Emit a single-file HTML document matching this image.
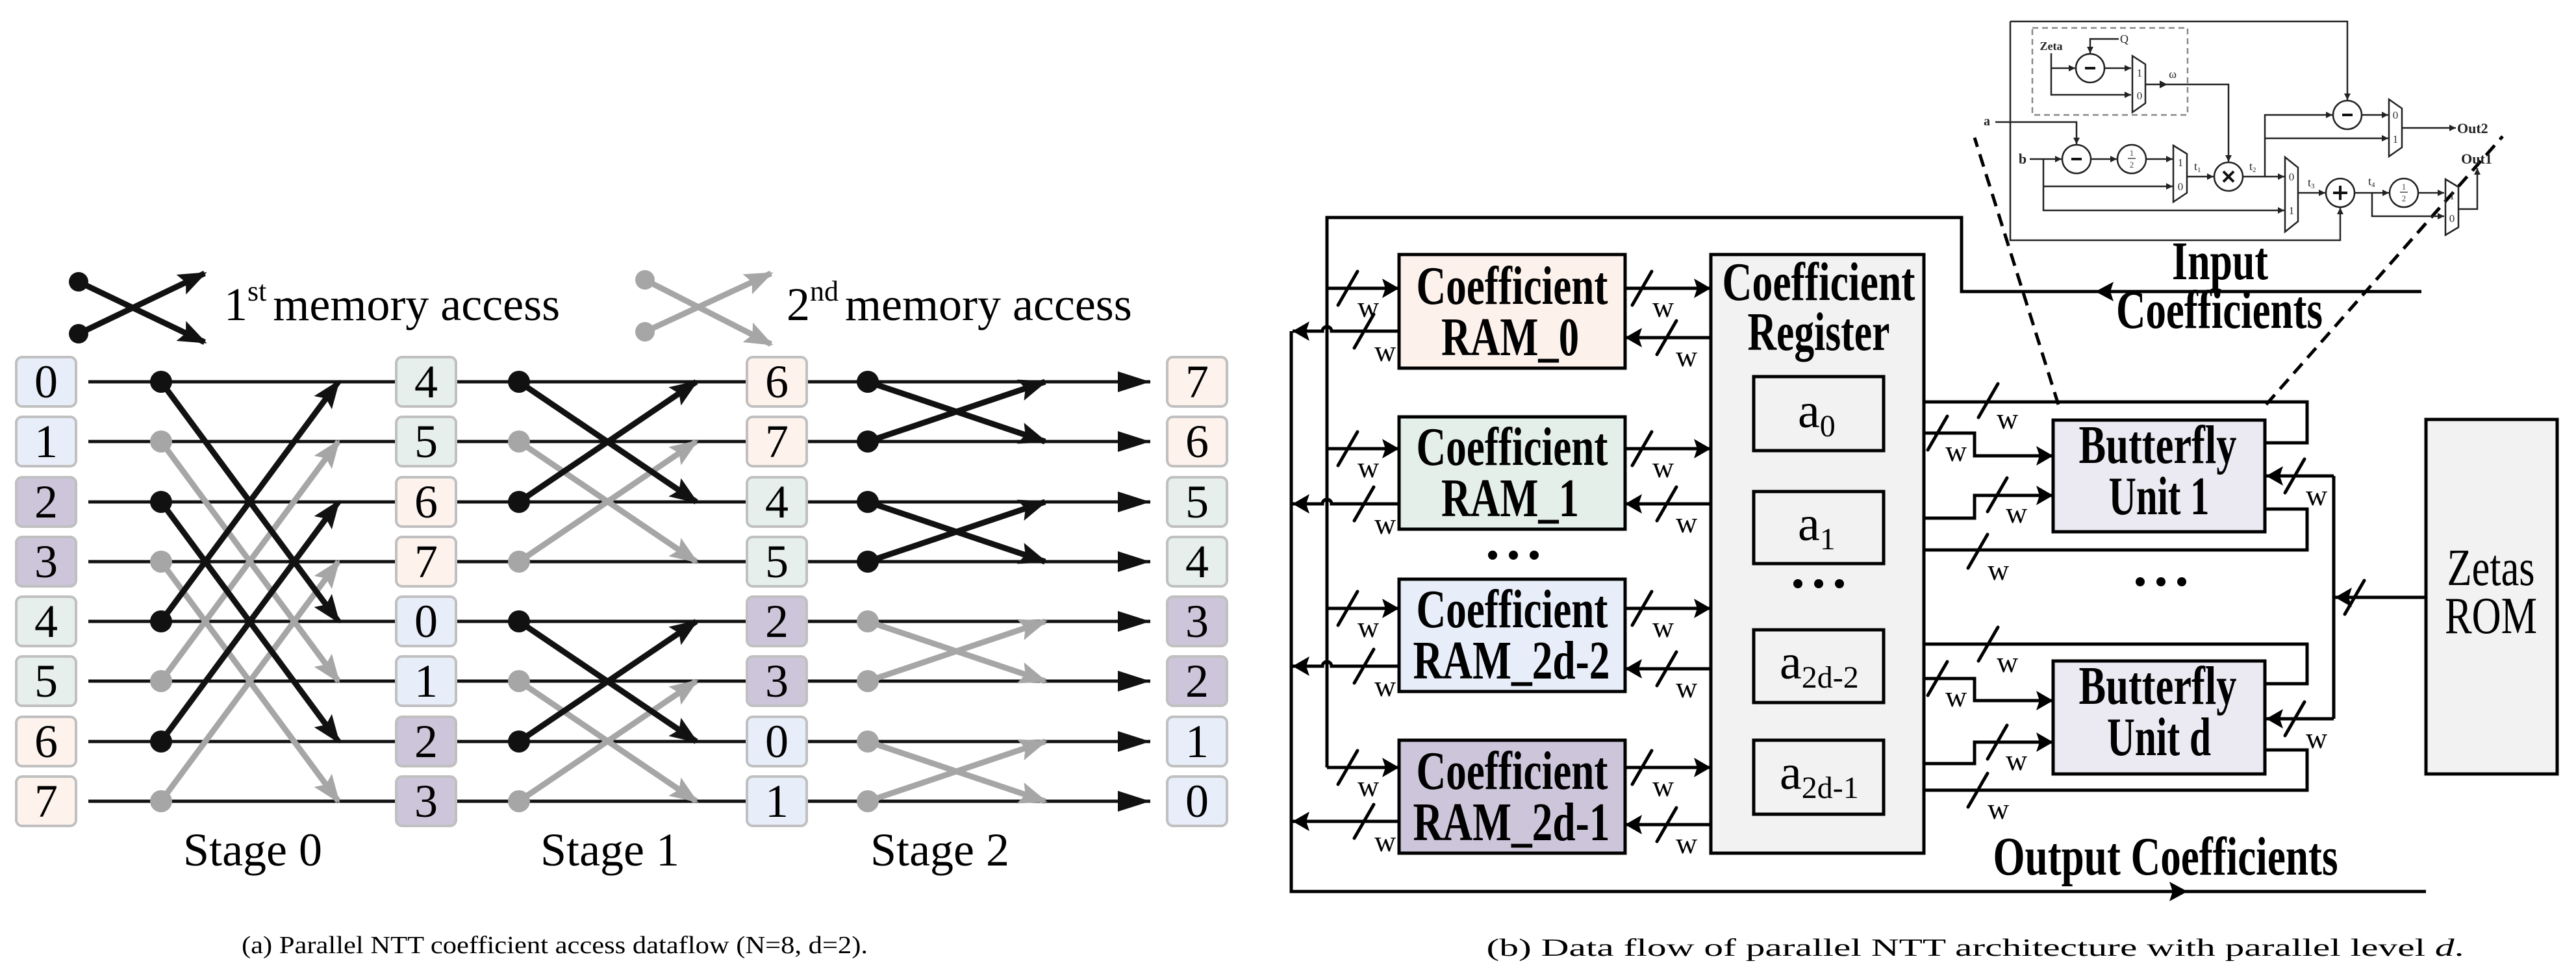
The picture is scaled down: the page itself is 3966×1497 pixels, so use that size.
<!DOCTYPE html>
<html><head><meta charset="utf-8"><style>html,body{margin:0;padding:0;background:#fff}svg{display:block}</style></head>
<body>
<svg xmlns="http://www.w3.org/2000/svg" width="3966" height="1497" viewBox="0 0 3966 1497" font-family="'Liberation Serif', serif">
<defs>
<marker id="ah" viewBox="0 0 50 32" refX="50" refY="16" markerWidth="50" markerHeight="32" markerUnits="userSpaceOnUse" orient="auto"><path d="M0,0 L50,16 L0,32 z" fill="#111"/></marker>
<marker id="ac" viewBox="0 0 44 34" refX="40" refY="17" markerWidth="44" markerHeight="34" markerUnits="userSpaceOnUse" orient="auto"><path d="M0,0 L44,17 L0,34 L8,17 z" fill="#111"/></marker>
<marker id="acg" viewBox="0 0 44 34" refX="40" refY="17" markerWidth="44" markerHeight="34" markerUnits="userSpaceOnUse" orient="auto"><path d="M0,0 L44,17 L0,34 L8,17 z" fill="#a6a6a6"/></marker>
<marker id="ab" viewBox="0 0 26 30" refX="26" refY="15" markerWidth="26" markerHeight="30" markerUnits="userSpaceOnUse" orient="auto"><path d="M0,0 L26,15 L0,30 L5,15 z" fill="#000"/></marker>
<marker id="ai" viewBox="0 0 10 10" refX="10" refY="5" markerWidth="10" markerHeight="10" markerUnits="userSpaceOnUse" orient="auto"><path d="M0,0 L10,5 L0,10 z" fill="#222"/></marker>
</defs>
<rect width="3966" height="1497" fill="#fff"/>

<!-- ===== Part (a) ===== -->
<!-- legend -->
<g stroke-width="9">
<line x1="121" y1="434" x2="315" y2="527" stroke="#111" marker-end="url(#ac)"/>
<line x1="121" y1="514" x2="315" y2="421" stroke="#111" marker-end="url(#ac)"/>
<line x1="993" y1="431" x2="1187" y2="530" stroke="#a6a6a6" marker-end="url(#acg)"/>
<line x1="993" y1="511" x2="1187" y2="421" stroke="#a6a6a6" marker-end="url(#acg)"/>
</g>
<circle cx="121" cy="434" r="15" fill="#111"/><circle cx="121" cy="514" r="15" fill="#111"/>
<circle cx="993" cy="431" r="15" fill="#a6a6a6"/><circle cx="993" cy="511" r="15" fill="#a6a6a6"/>
<text x="345" y="493" font-size="72">1<tspan font-size="44" dy="-30">st</tspan><tspan dy="30" dx="10">memory access</tspan></text>
<text x="1211" y="493" font-size="72">2<tspan font-size="44" dy="-30">nd</tspan><tspan dy="30" dx="10">memory access</tspan></text>

<!-- row lines -->
<g stroke="#111" stroke-width="5">
<line x1="136" y1="588" x2="1771" y2="588" marker-end="url(#ah)"/>
<line x1="136" y1="680" x2="1771" y2="680" marker-end="url(#ah)"/>
<line x1="136" y1="773" x2="1771" y2="773" marker-end="url(#ah)"/>
<line x1="136" y1="865" x2="1771" y2="865" marker-end="url(#ah)"/>
<line x1="136" y1="957" x2="1771" y2="957" marker-end="url(#ah)"/>
<line x1="136" y1="1049" x2="1771" y2="1049" marker-end="url(#ah)"/>
<line x1="136" y1="1142" x2="1771" y2="1142" marker-end="url(#ah)"/>
<line x1="136" y1="1234" x2="1771" y2="1234" marker-end="url(#ah)"/>
</g>
<!-- gray crosses -->
<g stroke="#a6a6a6" stroke-width="9" marker-end="url(#acg)">
<line x1="248" y1="680" x2="521" y2="1049"/><line x1="248" y1="1049" x2="521" y2="680"/>
<line x1="248" y1="865" x2="521" y2="1234"/><line x1="248" y1="1234" x2="521" y2="865"/>
<line x1="799" y1="680" x2="1072" y2="865"/><line x1="799" y1="865" x2="1072" y2="680"/>
<line x1="799" y1="1049" x2="1072" y2="1234"/><line x1="799" y1="1234" x2="1072" y2="1049"/>
<line x1="1336" y1="957" x2="1609" y2="1049"/><line x1="1336" y1="1049" x2="1609" y2="957"/>
<line x1="1336" y1="1142" x2="1609" y2="1234"/><line x1="1336" y1="1234" x2="1609" y2="1142"/>
</g>
<g fill="#a6a6a6">
<circle cx="248" cy="680" r="17"/><circle cx="248" cy="1049" r="17"/><circle cx="248" cy="865" r="17"/><circle cx="248" cy="1234" r="17"/>
<circle cx="799" cy="680" r="17"/><circle cx="799" cy="865" r="17"/><circle cx="799" cy="1049" r="17"/><circle cx="799" cy="1234" r="17"/>
<circle cx="1336" cy="957" r="17"/><circle cx="1336" cy="1049" r="17"/><circle cx="1336" cy="1142" r="17"/><circle cx="1336" cy="1234" r="17"/>
</g>
<!-- black crosses -->
<g stroke="#111" stroke-width="9" marker-end="url(#ac)">
<line x1="248" y1="588" x2="521" y2="957"/><line x1="248" y1="957" x2="521" y2="588"/>
<line x1="248" y1="773" x2="521" y2="1142"/><line x1="248" y1="1142" x2="521" y2="773"/>
<line x1="799" y1="588" x2="1072" y2="773"/><line x1="799" y1="773" x2="1072" y2="588"/>
<line x1="799" y1="957" x2="1072" y2="1142"/><line x1="799" y1="1142" x2="1072" y2="957"/>
<line x1="1336" y1="588" x2="1609" y2="680"/><line x1="1336" y1="680" x2="1609" y2="588"/>
<line x1="1336" y1="773" x2="1609" y2="865"/><line x1="1336" y1="865" x2="1609" y2="773"/>
</g>
<g fill="#111">
<circle cx="248" cy="588" r="17"/><circle cx="248" cy="957" r="17"/><circle cx="248" cy="773" r="17"/><circle cx="248" cy="1142" r="17"/>
<circle cx="799" cy="588" r="17"/><circle cx="799" cy="773" r="17"/><circle cx="799" cy="957" r="17"/><circle cx="799" cy="1142" r="17"/>
<circle cx="1336" cy="588" r="17"/><circle cx="1336" cy="680" r="17"/><circle cx="1336" cy="773" r="17"/><circle cx="1336" cy="865" r="17"/>
</g>
<!-- number boxes -->
<g stroke="#c0c0c0" stroke-width="4">
<!-- col0 -->
<rect x="25" y="550" width="92" height="76" rx="9" fill="#e8eef9"/>
<rect x="25" y="642" width="92" height="76" rx="9" fill="#e8eef9"/>
<rect x="25" y="735" width="92" height="76" rx="9" fill="#cdc5d9"/>
<rect x="25" y="827" width="92" height="76" rx="9" fill="#cdc5d9"/>
<rect x="25" y="919" width="92" height="76" rx="9" fill="#e6efec"/>
<rect x="25" y="1011" width="92" height="76" rx="9" fill="#e6efec"/>
<rect x="25" y="1104" width="92" height="76" rx="9" fill="#fdf2ec"/>
<rect x="25" y="1196" width="92" height="76" rx="9" fill="#fdf2ec"/>
<!-- col1 -->
<rect x="610" y="550" width="92" height="76" rx="9" fill="#e6efec"/>
<rect x="610" y="642" width="92" height="76" rx="9" fill="#e6efec"/>
<rect x="610" y="735" width="92" height="76" rx="9" fill="#fdf2ec"/>
<rect x="610" y="827" width="92" height="76" rx="9" fill="#fdf2ec"/>
<rect x="610" y="919" width="92" height="76" rx="9" fill="#e8eef9"/>
<rect x="610" y="1011" width="92" height="76" rx="9" fill="#e8eef9"/>
<rect x="610" y="1104" width="92" height="76" rx="9" fill="#cdc5d9"/>
<rect x="610" y="1196" width="92" height="76" rx="9" fill="#cdc5d9"/>
<!-- col2 -->
<rect x="1150" y="550" width="92" height="76" rx="9" fill="#fdf2ec"/>
<rect x="1150" y="642" width="92" height="76" rx="9" fill="#fdf2ec"/>
<rect x="1150" y="735" width="92" height="76" rx="9" fill="#e6efec"/>
<rect x="1150" y="827" width="92" height="76" rx="9" fill="#e6efec"/>
<rect x="1150" y="919" width="92" height="76" rx="9" fill="#cdc5d9"/>
<rect x="1150" y="1011" width="92" height="76" rx="9" fill="#cdc5d9"/>
<rect x="1150" y="1104" width="92" height="76" rx="9" fill="#e8eef9"/>
<rect x="1150" y="1196" width="92" height="76" rx="9" fill="#e8eef9"/>
<!-- col3 -->
<rect x="1797" y="550" width="92" height="76" rx="9" fill="#fdf2ec"/>
<rect x="1797" y="642" width="92" height="76" rx="9" fill="#fdf2ec"/>
<rect x="1797" y="735" width="92" height="76" rx="9" fill="#e6efec"/>
<rect x="1797" y="827" width="92" height="76" rx="9" fill="#e6efec"/>
<rect x="1797" y="919" width="92" height="76" rx="9" fill="#cdc5d9"/>
<rect x="1797" y="1011" width="92" height="76" rx="9" fill="#cdc5d9"/>
<rect x="1797" y="1104" width="92" height="76" rx="9" fill="#e8eef9"/>
<rect x="1797" y="1196" width="92" height="76" rx="9" fill="#e8eef9"/>
</g>
<g font-size="72" text-anchor="middle" fill="#000">
<text x="71" y="612">0</text><text x="71" y="704">1</text><text x="71" y="797">2</text><text x="71" y="889">3</text>
<text x="71" y="981">4</text><text x="71" y="1073">5</text><text x="71" y="1166">6</text><text x="71" y="1258">7</text>
<text x="656" y="612">4</text><text x="656" y="704">5</text><text x="656" y="797">6</text><text x="656" y="889">7</text>
<text x="656" y="981">0</text><text x="656" y="1073">1</text><text x="656" y="1166">2</text><text x="656" y="1258">3</text>
<text x="1196" y="612">6</text><text x="1196" y="704">7</text><text x="1196" y="797">4</text><text x="1196" y="889">5</text>
<text x="1196" y="981">2</text><text x="1196" y="1073">3</text><text x="1196" y="1166">0</text><text x="1196" y="1258">1</text>
<text x="1843" y="612">7</text><text x="1843" y="704">6</text><text x="1843" y="797">5</text><text x="1843" y="889">4</text>
<text x="1843" y="981">3</text><text x="1843" y="1073">2</text><text x="1843" y="1166">1</text><text x="1843" y="1258">0</text>
<text x="389" y="1333">Stage 0</text><text x="939" y="1333">Stage 1</text><text x="1447" y="1333">Stage 2</text>
</g>
<text x="854" y="1468" font-size="38" text-anchor="middle" textLength="964" lengthAdjust="spacingAndGlyphs">(a) Parallel NTT coefficient access dataflow (N=8, d=2).</text>

<!-- ===== Part (b) ===== -->
<g stroke="#000" stroke-width="5" fill="none">
<!-- input bus -->
<path d="M3728,449 H3020 V335 H2043 V1182"/>
<!-- output bus -->
<path d="M1988,510 V1373 H3735"/>
<!-- RAM inputs -->
<line x1="2043" y1="444" x2="2154" y2="444" marker-end="url(#ab)"/>
<line x1="2043" y1="691" x2="2154" y2="691" marker-end="url(#ab)"/>
<line x1="2043" y1="937" x2="2154" y2="937" marker-end="url(#ab)"/>
<line x1="2043" y1="1182" x2="2154" y2="1182" marker-end="url(#ab)"/>
<!-- RAM outputs with hops -->
<path d="M2154,510 H2050 A7,7 0 0 0 2036,510 H1990" marker-end="url(#ab)"/>
<path d="M2154,776 H2050 A7,7 0 0 0 2036,776 H1990" marker-end="url(#ab)"/>
<path d="M2154,1026 H2050 A7,7 0 0 0 2036,1026 H1990" marker-end="url(#ab)"/>
<line x1="2154" y1="1265" x2="1990" y2="1265" marker-end="url(#ab)"/>
<!-- RAM -> Reg -->
<line x1="2502" y1="444" x2="2634" y2="444" marker-end="url(#ab)"/>
<line x1="2502" y1="691" x2="2634" y2="691" marker-end="url(#ab)"/>
<line x1="2502" y1="937" x2="2634" y2="937" marker-end="url(#ab)"/>
<line x1="2502" y1="1182" x2="2634" y2="1182" marker-end="url(#ab)"/>
<!-- Reg -> RAM -->
<line x1="2634" y1="520" x2="2502" y2="520" marker-end="url(#ab)"/>
<line x1="2634" y1="776" x2="2502" y2="776" marker-end="url(#ab)"/>
<line x1="2634" y1="1030" x2="2502" y2="1030" marker-end="url(#ab)"/>
<line x1="2634" y1="1270" x2="2502" y2="1270" marker-end="url(#ab)"/>
<!-- BU1 -->
<path d="M3487,682 H3552 V619 H2902" marker-end="url(#ab)"/>
<path d="M2900,667 H3040 V702 H3161" marker-end="url(#ab)"/>
<path d="M2900,798 H3040 V763 H3161" marker-end="url(#ab)"/>
<path d="M3487,784 H3552 V847 H2902" marker-end="url(#ab)"/>
<!-- BUd -->
<path d="M3487,1053 H3552 V992 H2902" marker-end="url(#ab)"/>
<path d="M2900,1045 H3040 V1079 H3161" marker-end="url(#ab)"/>
<path d="M2900,1176 H3040 V1143 H3161" marker-end="url(#ab)"/>
<path d="M3487,1155 H3552 V1217 H2902" marker-end="url(#ab)"/>
<!-- zetas -->
<line x1="3735" y1="920" x2="3595" y2="920" marker-end="url(#ab)"/>
<path d="M3593,733 V1107"/>
<line x1="3593" y1="733" x2="3489" y2="733" marker-end="url(#ab)"/>
<line x1="3593" y1="1107" x2="3489" y2="1107" marker-end="url(#ab)"/>
</g>
<!-- mid arrows on buses -->
<path d="M3226,449 L3254,434 L3249,449 L3254,464 z" fill="#000"/>
<path d="M3368,1373 L3340,1358 L3345,1373 L3340,1388 z" fill="#000"/>

<!-- boxes -->
<g stroke="#000" stroke-width="5">
<rect x="2154" y="392" width="348" height="175" fill="#fdf1ec"/>
<rect x="2154" y="642" width="348" height="173" fill="#e5efea"/>
<rect x="2154" y="892" width="348" height="173" fill="#e8eef9"/>
<rect x="2154" y="1140" width="348" height="174" fill="#cdc5d9"/>
<rect x="2634" y="392" width="328" height="922" fill="#f2f2f2"/>
<rect x="2700" y="580" width="200" height="114" fill="#f2f2f2"/>
<rect x="2700" y="757" width="200" height="111" fill="#f2f2f2"/>
<rect x="2700" y="970" width="200" height="112" fill="#f2f2f2"/>
<rect x="2700" y="1140" width="200" height="114" fill="#f2f2f2"/>
<rect x="3161" y="647" width="326" height="172" fill="#ebe9f1"/>
<rect x="3161" y="1018" width="326" height="174" fill="#ebe9f1"/>
<rect x="3735" y="646" width="202" height="546" fill="#f2f2f2"/>
</g>

<!-- box texts -->
<g font-weight="bold" font-size="84" text-anchor="middle" lengthAdjust="spacingAndGlyphs">
<text x="2328" y="468" textLength="295" lengthAdjust="spacingAndGlyphs">Coefficient</text>
<text x="2325" y="547" textLength="212" lengthAdjust="spacingAndGlyphs">RAM_0</text>
<text x="2328" y="716" textLength="295" lengthAdjust="spacingAndGlyphs">Coefficient</text>
<text x="2325" y="795" textLength="212" lengthAdjust="spacingAndGlyphs">RAM_1</text>
<text x="2328" y="966" textLength="295" lengthAdjust="spacingAndGlyphs">Coefficient</text>
<text x="2327" y="1045" textLength="303" lengthAdjust="spacingAndGlyphs">RAM_2d-2</text>
<text x="2328" y="1215" textLength="295" lengthAdjust="spacingAndGlyphs">Coefficient</text>
<text x="2327" y="1294" textLength="303" lengthAdjust="spacingAndGlyphs">RAM_2d-1</text>
<text x="2800" y="462" textLength="297" lengthAdjust="spacingAndGlyphs">Coefficient</text>
<text x="2800" y="539" textLength="219" lengthAdjust="spacingAndGlyphs">Register</text>
<text x="3322" y="713" textLength="243" lengthAdjust="spacingAndGlyphs">Butterfly</text>
<text x="3324" y="792" textLength="155" lengthAdjust="spacingAndGlyphs">Unit 1</text>
<text x="3322" y="1084" textLength="243" lengthAdjust="spacingAndGlyphs">Butterfly</text>
<text x="3324" y="1163" textLength="160" lengthAdjust="spacingAndGlyphs">Unit d</text>
<text x="3418" y="430" textLength="148" lengthAdjust="spacingAndGlyphs">Input</text>
<text x="3417" y="505" textLength="318" lengthAdjust="spacingAndGlyphs">Coefficients</text>
<text x="3334" y="1347" textLength="531" lengthAdjust="spacingAndGlyphs">Output Coefficients</text>
</g>
<g font-size="80" text-anchor="middle">
<text x="3835" y="901" textLength="135" lengthAdjust="spacingAndGlyphs">Zetas</text>
<text x="3835" y="975" textLength="142" lengthAdjust="spacingAndGlyphs">ROM</text>
</g>
<g font-size="76">
<text x="2768" y="658">a<tspan font-size="48" dy="14">0</tspan></text>
<text x="2768" y="832">a<tspan font-size="48" dy="14">1</tspan></text>
<text x="2740" y="1045">a<tspan font-size="48" dy="14">2d-2</tspan></text>
<text x="2740" y="1215">a<tspan font-size="48" dy="14">2d-1</tspan></text>
</g>
<!-- ellipses -->
<g fill="#000">
<circle cx="2298" cy="855" r="7"/><circle cx="2330" cy="855" r="7"/><circle cx="2362" cy="855" r="7"/>
<circle cx="2768" cy="899" r="7"/><circle cx="2800" cy="899" r="7"/><circle cx="2832" cy="899" r="7"/>
<circle cx="3295" cy="896" r="7"/><circle cx="3327" cy="896" r="7"/><circle cx="3359" cy="896" r="7"/>
</g>

<!-- slashes -->
<g stroke="#000" stroke-width="5" stroke-linecap="round">
<line x1="2060" y1="470" x2="2090" y2="418"/><line x1="2060" y1="717" x2="2090" y2="665"/><line x1="2060" y1="963" x2="2090" y2="911"/><line x1="2060" y1="1208" x2="2090" y2="1156"/>
<line x1="2085" y1="536" x2="2115" y2="484"/><line x1="2085" y1="802" x2="2115" y2="750"/><line x1="2085" y1="1052" x2="2115" y2="1000"/><line x1="2085" y1="1291" x2="2115" y2="1239"/>
<line x1="2513" y1="470" x2="2543" y2="418"/><line x1="2513" y1="717" x2="2543" y2="665"/><line x1="2513" y1="963" x2="2543" y2="911"/><line x1="2513" y1="1208" x2="2543" y2="1156"/>
<line x1="2551" y1="546" x2="2581" y2="494"/><line x1="2551" y1="802" x2="2581" y2="750"/><line x1="2551" y1="1056" x2="2581" y2="1004"/><line x1="2551" y1="1296" x2="2581" y2="1244"/>
<line x1="3046" y1="643" x2="3076" y2="591"/><line x1="2968" y1="693" x2="2998" y2="641"/><line x1="3060" y1="788" x2="3090" y2="736"/><line x1="3030" y1="875" x2="3060" y2="823"/>
<line x1="3518" y1="759" x2="3548" y2="707"/>
<line x1="3046" y1="1018" x2="3076" y2="966"/><line x1="2968" y1="1071" x2="2998" y2="1019"/><line x1="3060" y1="1169" x2="3090" y2="1117"/><line x1="3030" y1="1243" x2="3060" y2="1191"/>
<line x1="3518" y1="1133" x2="3548" y2="1081"/>
<line x1="3610" y1="946" x2="3640" y2="894"/>
</g>
<g font-size="46">
<text x="2090" y="488">w</text><text x="2090" y="735">w</text><text x="2090" y="981">w</text><text x="2090" y="1226">w</text>
<text x="2116" y="556">w</text><text x="2116" y="822">w</text><text x="2116" y="1072">w</text><text x="2116" y="1311">w</text>
<text x="2544" y="488">w</text><text x="2544" y="735">w</text><text x="2544" y="981">w</text><text x="2544" y="1226">w</text>
<text x="2580" y="564">w</text><text x="2580" y="820">w</text><text x="2580" y="1074">w</text><text x="2580" y="1314">w</text>
<text x="3074" y="660">w</text><text x="2995" y="710">w</text><text x="3088" y="805">w</text><text x="3060" y="893">w</text>
<text x="3550" y="778">w</text>
<text x="3074" y="1035">w</text><text x="2995" y="1088">w</text><text x="3088" y="1186">w</text><text x="3060" y="1261">w</text>
<text x="3550" y="1152">w</text>
</g>

<!-- dashed zoom lines -->
<g stroke="#000" stroke-width="5" stroke-dasharray="20 12">
<line x1="3169" y1="623" x2="3040" y2="212"/>
<line x1="3489" y1="623" x2="3853" y2="210"/>
</g>

<!-- ===== inset butterfly ===== -->
<g stroke="#222" stroke-width="2.5" fill="none">
<path d="M3095,33 H3614 V154" marker-end="url(#ai)"/>
<path d="M3095,33 V370 H3603 V320" marker-end="url(#ai)"/>
<rect x="3129" y="43" width="239" height="134" stroke="#888" stroke-dasharray="9 6"/>
<path d="M3158,82 V146 H3281" marker-end="url(#ai)"/>
<path d="M3158,105 H3195" marker-end="url(#ai)"/>
<path d="M3262,60 H3218 V82" marker-end="url(#ai)"/>
<path d="M3240,105 H3281" marker-end="url(#ai)"/>
<path d="M3303,130 H3431 V249" marker-end="url(#ai)"/>
<path d="M3072,188 H3197 V222" marker-end="url(#ai)"/>
<path d="M3125,245 H3174" marker-end="url(#ai)"/>
<path d="M3219,245 H3259" marker-end="url(#ai)"/>
<path d="M3304,245 H3345" marker-end="url(#ai)"/>
<path d="M3146,245 V324 H3517" marker-end="url(#ai)"/>
<path d="M3146,287 H3345" marker-end="url(#ai)"/>
<path d="M3367,272 H3408" marker-end="url(#ai)"/>
<path d="M3453,272 H3517" marker-end="url(#ai)"/>
<path d="M3487,272 V177 H3591" marker-end="url(#ai)"/>
<path d="M3487,213 H3677" marker-end="url(#ai)"/>
<path d="M3636,177 H3677" marker-end="url(#ai)"/>
<path d="M3698,197 H3781" marker-end="url(#ai)"/>
<path d="M3538,297 H3580" marker-end="url(#ai)"/>
<path d="M3625,297 H3678" marker-end="url(#ai)"/>
<path d="M3652,297 V333 H3763" marker-end="url(#ai)"/>
<path d="M3723,297 H3763" marker-end="url(#ai)"/>
<path d="M3785,322 H3814 V259" marker-end="url(#ai)"/>
<circle cx="3218" cy="105" r="22"/><circle cx="3197" cy="245" r="22"/><circle cx="3282" cy="245" r="22"/>
<circle cx="3431" cy="272" r="22"/><circle cx="3614" cy="177" r="22"/><circle cx="3603" cy="297" r="22"/><circle cx="3701" cy="297" r="22"/>
<polygon points="3283,86 3303,99 3303,159 3283,173"/>
<polygon points="3346,224 3367,237 3367,297 3346,311"/>
<polygon points="3678,153 3698,167 3698,227 3678,241"/>
<polygon points="3518,242 3538,258 3538,341 3518,357"/>
<polygon points="3765,276 3785,288 3785,350 3765,362"/>
</g>
<path d="M3325,124 L3337,130 L3325,136 z" fill="#222"/>
<g stroke="#111" stroke-width="4">
<line x1="3210" y1="105" x2="3226" y2="105"/><line x1="3189" y1="245" x2="3205" y2="245"/><line x1="3606" y1="177" x2="3622" y2="177"/>
<line x1="3423" y1="264" x2="3439" y2="280"/><line x1="3439" y1="264" x2="3423" y2="280"/>
<line x1="3592" y1="297" x2="3614" y2="297"/><line x1="3603" y1="286" x2="3603" y2="308"/>
</g>
<g stroke="#444" stroke-width="1.5"><line x1="3276" y1="244" x2="3288" y2="244"/><line x1="3695" y1="296" x2="3707" y2="296"/></g>
<g font-size="13" fill="#444" text-anchor="middle">
<text x="3282" y="240">1</text><text x="3282" y="258">2</text><text x="3701" y="292">1</text><text x="3701" y="310">2</text>
</g>
<g font-size="17" fill="#333" text-anchor="middle">
<text x="3294" y="118">1</text><text x="3294" y="153">0</text>
<text x="3357" y="256">1</text><text x="3357" y="293">0</text>
<text x="3688" y="183">0</text><text x="3688" y="220">1</text>
<text x="3528" y="278">0</text><text x="3528" y="330">1</text>
<text x="3775" y="307">1</text><text x="3775" y="342">0</text>
</g>
<g font-size="18" fill="#222">
<text x="3345" y="120" text-anchor="middle">ω</text>
<text x="3264" y="66">Q</text>
<text x="3378" y="262">t<tspan font-size="11" dy="3">1</tspan></text>
<text x="3463" y="262">t<tspan font-size="11" dy="3">2</tspan></text>
<text x="3553" y="287">t<tspan font-size="11" dy="3">3</tspan></text>
<text x="3646" y="285">t<tspan font-size="11" dy="3">4</tspan></text>
</g>
<g font-weight="bold" fill="#222">
<text x="3158" y="77" font-size="18" text-anchor="middle">Zeta</text>
<text x="3059" y="193" font-size="20" text-anchor="middle">a</text>
<text x="3114" y="252" font-size="22" text-anchor="middle">b</text>
<text x="3783" y="205" font-size="22">Out2</text>
<text x="3813" y="252" font-size="22" text-anchor="middle">Out1</text>
</g>

<text x="3041" y="1472" font-size="38" text-anchor="middle" textLength="1505" lengthAdjust="spacingAndGlyphs">(b) Data flow of parallel NTT architecture with parallel level <tspan font-style="italic">d</tspan>.</text>
</svg>
</body></html>
